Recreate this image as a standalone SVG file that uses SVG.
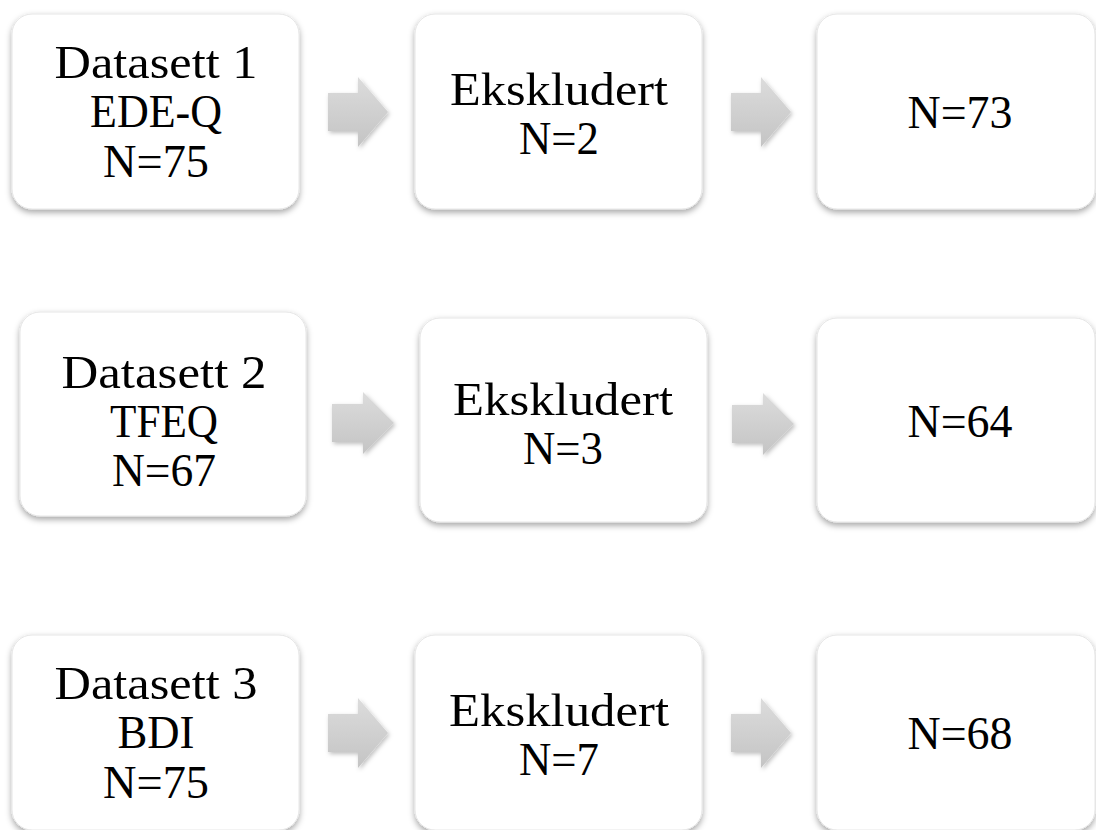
<svg xmlns="http://www.w3.org/2000/svg" width="1096" height="830" viewBox="0 0 1096 830">
<defs>
<filter id="sh" x="-10%" y="-10%" width="120%" height="125%">
<feDropShadow dx="0" dy="3" stdDeviation="3" flood-color="#000" flood-opacity="0.35"/>
</filter>
<filter id="ash" x="-20%" y="-20%" width="150%" height="150%">
<feDropShadow dx="1.5" dy="2" stdDeviation="2" flood-color="#000" flood-opacity="0.25"/>
</filter>
<linearGradient id="ag" x1="0" y1="0" x2="0" y2="1">
<stop offset="0" stop-color="#dcdcdc"/>
<stop offset="1" stop-color="#c4c4c4"/>
</linearGradient>
</defs>
<style>
.box{fill:#fff;stroke:#e6e6e6;stroke-width:1;filter:url(#sh)}
.t{font-family:"Liberation Serif","Times New Roman",serif;font-size:46px;fill:#000;text-anchor:middle}
.arr{fill:url(#ag);filter:url(#ash)}
</style>
<rect width="1096" height="830" fill="#fff"/>
<g id="connectors">
<path class="arr" d="M328,93 H358 V77 L388,112 L358,147 V131 H328 Z"/>
<path class="arr" d="M731,93 H761 V77 L791,112 L761,147 V131 H731 Z"/>
<path class="arr" d="M332,404 H363 V392 L394,423 L363,454 V442 H332 Z"/>
<path class="arr" d="M732,405 H763 V393 L794,424 L763,455 V443 H732 Z"/>
<path class="arr" d="M328,714 H358 V698 L388,733 L358,768 V752 H328 Z"/>
<path class="arr" d="M731,714 H761 V698 L791,733 L761,768 V752 H731 Z"/>
</g>
<g id="n1a"><rect class="box" x="12" y="14" width="287" height="195" rx="20"/>
<text class="t" x="156" y="78" textLength="203" lengthAdjust="spacingAndGlyphs">Datasett 1</text>
<text class="t" x="156" y="127" textLength="132" lengthAdjust="spacingAndGlyphs">EDE-Q</text>
<text class="t" x="156" y="177" textLength="106" lengthAdjust="spacingAndGlyphs">N=75</text></g>
<g id="n1b"><rect class="box" x="415" y="14" width="287" height="195" rx="20"/>
<text class="t" x="559" y="105" textLength="218" lengthAdjust="spacingAndGlyphs">Ekskludert</text>
<text class="t" x="559" y="154" textLength="80" lengthAdjust="spacingAndGlyphs">N=2</text></g>
<g id="n1c"><rect class="box" x="817" y="14" width="278" height="195" rx="20"/>
<text class="t" x="960" y="128" textLength="105" lengthAdjust="spacingAndGlyphs">N=73</text></g>
<g id="n2a"><rect class="box" x="20" y="312" width="286" height="204" rx="20"/>
<text class="t" x="164" y="388" textLength="205" lengthAdjust="spacingAndGlyphs">Datasett 2</text>
<text class="t" x="164" y="437" textLength="108" lengthAdjust="spacingAndGlyphs">TFEQ</text>
<text class="t" x="164" y="486" textLength="104" lengthAdjust="spacingAndGlyphs">N=67</text></g>
<g id="n2b"><rect class="box" x="420" y="318" width="287" height="204" rx="20"/>
<text class="t" x="563" y="415" textLength="220" lengthAdjust="spacingAndGlyphs">Ekskludert</text>
<text class="t" x="563" y="464" textLength="80" lengthAdjust="spacingAndGlyphs">N=3</text></g>
<g id="n2c"><rect class="box" x="817" y="318" width="278" height="204" rx="20"/>
<text class="t" x="960" y="437" textLength="105" lengthAdjust="spacingAndGlyphs">N=64</text></g>
<g id="n3a"><rect class="box" x="12" y="635" width="287" height="195" rx="20"/>
<text class="t" x="156" y="699" textLength="203" lengthAdjust="spacingAndGlyphs">Datasett 3</text>
<text class="t" x="156" y="748" textLength="77" lengthAdjust="spacingAndGlyphs">BDI</text>
<text class="t" x="156" y="798" textLength="106" lengthAdjust="spacingAndGlyphs">N=75</text></g>
<g id="n3b"><rect class="box" x="415" y="635" width="287" height="195" rx="20"/>
<text class="t" x="559" y="726" textLength="220" lengthAdjust="spacingAndGlyphs">Ekskludert</text>
<text class="t" x="559" y="775" textLength="80" lengthAdjust="spacingAndGlyphs">N=7</text></g>
<g id="n3c"><rect class="box" x="817" y="635" width="278" height="195" rx="20"/>
<text class="t" x="960" y="749" textLength="105" lengthAdjust="spacingAndGlyphs">N=68</text></g>
</svg>
